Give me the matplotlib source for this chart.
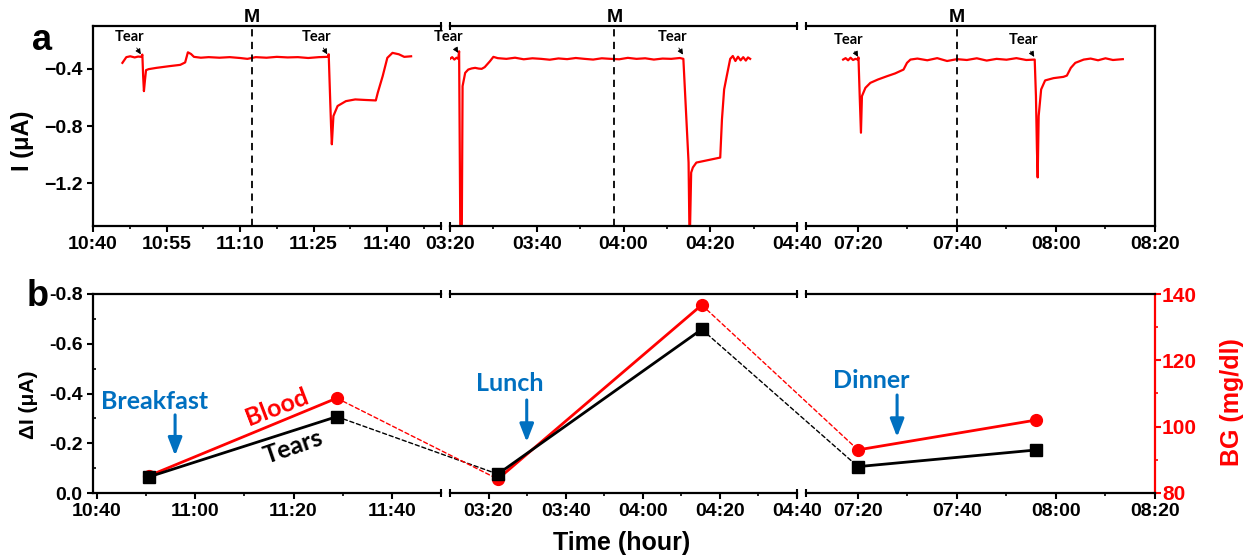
import matplotlib
matplotlib.use('Agg')
import matplotlib.pyplot as plt
from matplotlib.ticker import FuncFormatter
from matplotlib.patches import ConnectionPatch
import matplotlib.transforms as mtransforms
import numpy as np

plt.rcParams['font.family'] = ['Liberation Sans', 'DejaVu Sans']
plt.rcParams['font.weight'] = 'bold'

RED = '#ff0000'
BLUE = '#0070c0'

# ---- panel a: current traces (minutes after panel start, current in uA) ----
panel_start = ['10:40', '03:20', '07:20']
mark_time = ['11:12.4', '03:57.9', '07:40']

trace1_t = [6.0, 6.8, 7.6, 8.5, 9.2, 9.86, 10.07, 10.23, 10.39, 10.6, 10.82, 11.35, 12.95,
            15.6, 17.8, 18.8, 19.36, 20.0, 20.6, 22.0, 23.6, 25.8, 27.9, 30.0, 31.5, 33.2,
            35.4, 37.5, 39.7, 41.8, 43.9, 46.1, 47.88, 48.09, 48.41, 48.57, 48.73, 49.05,
            49.9, 51.6, 53.5, 55.7, 57.7, 58.1, 59.1, 60.05, 61.1, 62.4, 63.5, 64.9]
trace1_i = [-0.358, -0.318, -0.312, -0.320, -0.314, -0.316, -0.300, -0.45, -0.556, -0.48,
            -0.409, -0.402, -0.393, -0.381, -0.372, -0.355, -0.284, -0.296, -0.316, -0.322,
            -0.318, -0.322, -0.318, -0.324, -0.330, -0.318, -0.322, -0.316, -0.320, -0.318,
            -0.324, -0.318, -0.316, -0.298, -0.637, -0.80, -0.928, -0.73, -0.660, -0.626,
            -0.614, -0.618, -0.621, -0.567, -0.451, -0.323, -0.288, -0.298, -0.316, -0.312]

trace2_t = [0, 0.5, 1.0, 1.5, 1.9, 2.1, 2.4, 2.7, 2.9, 3.5, 4.2, 5.0, 5.8, 6.6, 7.3, 8.0,
            9.2, 10.0, 11, 13, 15, 17, 19, 21, 23, 25, 27, 29, 31, 33, 35, 37, 39, 41, 43,
            45, 47, 49, 51, 53, 53.8, 55.0, 55.25, 55.6, 56.0, 56.8, 62.3, 62.7, 63.2,
            63.8, 64.6, 65.2, 65.8, 66.4, 67.0, 67.6, 68.2, 68.7, 69.2]
trace2_i = [-0.330, -0.318, -0.335, -0.322, -0.330, -0.277, -1.65, -1.65, -0.521, -0.428,
            -0.405, -0.397, -0.393, -0.398, -0.400, -0.388, -0.347, -0.316, -0.325, -0.330,
            -0.322, -0.333, -0.326, -0.330, -0.336, -0.327, -0.332, -0.324, -0.330, -0.335,
            -0.326, -0.330, -0.333, -0.323, -0.330, -0.326, -0.335, -0.328, -0.330, -0.324,
            -0.330, -1.056, -1.65, -1.126, -1.09, -1.056, -1.021, -0.753, -0.544, -0.451,
            -0.330, -0.310, -0.345, -0.315, -0.340, -0.318, -0.342, -0.320, -0.330]

trace3_t = [-3.0, -2.5, -2.0, -1.5, -1.0, -0.5, 0.0, 0.1, 0.35, 0.6, 0.8, 1.5, 2.5, 4.0,
            5.9, 7.5, 9.2, 9.9, 10.6, 12, 14, 16, 18, 20, 22, 24, 26, 28, 30, 32, 34, 35.7,
            35.95, 36.15, 36.3, 36.5, 37.0, 37.8, 39.5, 41.5, 42.2, 43.0, 43.9, 45.6, 47,
            48.5, 50, 51.5, 53.5]
trace3_i = [-0.335, -0.325, -0.340, -0.322, -0.338, -0.330, -0.335, -0.320, -0.591, -0.847,
            -0.591, -0.533, -0.498, -0.475, -0.451, -0.432, -0.405, -0.358, -0.335, -0.328,
            -0.340, -0.325, -0.345, -0.332, -0.338, -0.326, -0.342, -0.330, -0.336, -0.325,
            -0.338, -0.335, -0.591, -0.963, -1.160, -0.730, -0.544, -0.481, -0.465, -0.456,
            -0.447, -0.393, -0.358, -0.335, -0.328, -0.340, -0.326, -0.338, -0.332]

# "Tear" labels: (text t, text I, tip t, tip I) per panel
tear_marks = [
    [(7.5, -0.177, 9.75, -0.298), (45.6, -0.177, 47.8, -0.298)],
    [(-0.4, -0.177, 1.9, -0.288), (51.2, -0.177, 53.7, -0.300)],
    [(-1.9, -0.200, 0.0, -0.316), (33.5, -0.200, 35.6, -0.316)],
]

# ---- panel b: tears current vs blood glucose ----
meal_times = ['10:50.6', '11:28.8', '03:22.4', '04:15.3', '07:20.0', '07:56.0']
tears_dI = [-0.065, -0.307, -0.076, -0.658, -0.106, -0.173]
blood_bg = [85.2, 108.6, 84.2, 136.7, 93.0, 102.0]
meal_names = ['Breakfast', 'Lunch', 'Dinner']
meal_text = [('10:51.8', -0.366), ('03:25.5', -0.442), ('07:22.6', -0.454)]
meal_arrow = [('10:55.9', -0.314, -0.150), ('03:29.9', -0.374, -0.205), ('07:27.9', -0.394, -0.225)]


def hm(s):
    h, m = s.split(':')
    return int(h) * 60 + float(m)


def hhmm(v, pos):
    v = int(round(v))
    return '%02d:%02d' % (v // 60, v % 60)


W, H = 1255, 560
fig = plt.figure(figsize=(W / 100, H / 100), dpi=100)


def px_axes(x0, x1, y0, y1):
    return fig.add_axes([x0 / W, 1 - y1 / H, (x1 - x0) / W, (y1 - y0) / H])


def break_marks(ax, left, right, color='k'):
    for xx, on in ((0, left), (1, right)):
        if on:
            for yy in (0, 1):
                ax.plot([xx, xx], [yy - 0.022, yy + 0.022], transform=ax.transAxes,
                        color=color, lw=1.5, clip_on=False, solid_capstyle='butt')


def style_x(ax, lo, hi, step, ticks_from):
    ax.set_xlim(hm(lo), hm(hi))
    t0 = hm(ticks_from)
    ax.set_xticks(np.arange(t0, hm(hi) + 0.01, step))
    ax.set_xticks(np.arange(t0 + step / 2, hm(hi), step), minor=True)
    ax.xaxis.set_major_formatter(FuncFormatter(hhmm))
    ax.tick_params(axis='x', which='major', direction='out', length=4, width=1.5,
                   labelsize=14, pad=3)
    ax.tick_params(axis='x', which='minor', direction='out', length=2.5, width=1.2)


cols_px = [(93, 441), (450, 797), (806, 1155)]
top_xlim = [('10:40', '11:51'), ('03:20', '04:40'), ('07:09.5', '08:20')]
top_step = [15, 20, 20]
top_tick0 = ['10:40', '03:20', '07:20']
bot_xlim = [('10:39.2', '11:50'), ('03:10', '04:40'), ('07:09.5', '08:20')]
bot_tick0 = ['10:40', '03:20', '07:20']

traces_t = [trace1_t, trace2_t, trace3_t]
traces_i = [trace1_i, trace2_i, trace3_i]

# ---- top row ----
for k in range(3):
    ax = px_axes(cols_px[k][0], cols_px[k][1], 26, 226)
    t0 = hm(panel_start[k])
    ax.plot([t0 + t for t in traces_t[k]], traces_i[k], color=RED, lw=1.6)
    ax.axvline(hm(mark_time[k]), color='k', ls='--', lw=1.3, dashes=(4, 3))
    ax.text(hm(mark_time[k]), 1.0, 'M', transform=mtransforms.blended_transform_factory(
        ax.transData, ax.transAxes), ha='center', va='bottom', fontsize=14)
    for tx, ty, px_, py in tear_marks[k]:
        ax.annotate('Tear', xy=(t0 + px_, py), xytext=(t0 + tx, ty), ha='center', va='center',
                    fontsize=10.5, family=['Lato', 'DejaVu Sans'], annotation_clip=False,
                    arrowprops=dict(arrowstyle='-|>', color='k', lw=0.6, shrinkA=1, shrinkB=0,
                                    mutation_scale=8))
    ax.set_ylim(-1.5, -0.1)
    style_x(ax, top_xlim[k][0], top_xlim[k][1], top_step[k], top_tick0[k])
    for sp in ax.spines.values():
        sp.set_linewidth(1.6)
    ax.spines['left'].set_visible(k == 0)
    ax.spines['right'].set_visible(k == 2)
    if k == 0:
        ax.set_yticks([-0.4, -0.8, -1.2])
        ax.tick_params(axis='y', which='major', direction='out', length=4, width=1.5,
                       labelsize=14)
    else:
        ax.set_yticks([])
    break_marks(ax, k > 0, k < 2)

# ---- bottom row ----
bot_axes = []
bot_twins = []
for k in range(3):
    ax = px_axes(cols_px[k][0], cols_px[k][1], 294, 493)
    tw = ax.twinx()
    ax.set_zorder(tw.get_zorder() + 1)
    ax.patch.set_visible(False)
    ax.set_ylim(0.0, -0.8)
    tw.set_ylim(80, 140)
    style_x(ax, bot_xlim[k][0], bot_xlim[k][1], 20, bot_tick0[k])
    pair = [2 * k, 2 * k + 1]
    tw.plot([hm(meal_times[j]) for j in pair], [blood_bg[j] for j in pair], '-o',
            color=RED, lw=2, ms=8.5)
    ax.plot([hm(meal_times[j]) for j in pair], [tears_dI[j] for j in pair], '-s',
            color='k', lw=2, ms=8.5)
    # meal annotation
    ax.text(hm(meal_text[k][0]), meal_text[k][1], meal_names[k], color=BLUE, fontsize=18,
            ha='center', va='center', family=['Lato', 'DejaVu Sans'])
    ax.annotate('', xy=(hm(meal_arrow[k][0]), meal_arrow[k][2]),
                xytext=(hm(meal_arrow[k][0]), meal_arrow[k][1]),
                arrowprops=dict(arrowstyle='-|>,head_length=0.9,head_width=0.35', color=BLUE,
                                lw=2.2, shrinkA=0, shrinkB=0, mutation_scale=12))
    for sp in ax.spines.values():
        sp.set_linewidth(1.6)
    ax.spines['left'].set_visible(k == 0)
    ax.spines['right'].set_visible(False)
    for name in ('top', 'bottom', 'left'):
        tw.spines[name].set_visible(False)
    tw.spines['right'].set_visible(k == 2)
    tw.spines['right'].set_color(RED)
    tw.spines['right'].set_linewidth(1.6)
    if k == 0:
        ax.set_yticks([0.0, -0.2, -0.4, -0.6, -0.8])
        ax.set_yticks([-0.1, -0.3, -0.5, -0.7], minor=True)
        ax.yaxis.set_major_formatter(FuncFormatter(lambda v, p: '%.1f' % v if v != 0 else '0.0'))
        ax.tick_params(axis='y', which='major', direction='out', length=4, width=1.5,
                       labelsize=14)
        ax.tick_params(axis='y', which='minor', direction='in', length=2.5, width=1.2)
    else:
        ax.set_yticks([])
    if k == 2:
        tw.set_yticks([80, 100, 120, 140])
        tw.set_yticks([90, 110, 130], minor=True)
        tw.tick_params(axis='y', which='major', direction='out', length=4, width=1.5,
                       labelsize=15, colors=RED, pad=1)
        tw.tick_params(axis='y', which='minor', direction='out', length=2.5, width=1.2,
                       colors=RED)
    else:
        tw.set_yticks([])
    break_marks(ax, k > 0, k < 2)
    bot_axes.append(ax)
    bot_twins.append(tw)

# dashed links between panels
for k in range(2):
    a, b = 2 * k + 1, 2 * k + 2
    fig.add_artist(ConnectionPatch(xyA=(hm(meal_times[a]), tears_dI[a]), coordsA=bot_axes[k].transData,
                                   xyB=(hm(meal_times[b]), tears_dI[b]), coordsB=bot_axes[k + 1].transData,
                                   color='k', lw=1.0, linestyle=(0, (3, 2))))
    fig.add_artist(ConnectionPatch(xyA=(hm(meal_times[a]), blood_bg[a]), coordsA=bot_twins[k].transData,
                                   xyB=(hm(meal_times[b]), blood_bg[b]), coordsB=bot_twins[k + 1].transData,
                                   color=RED, lw=1.0, linestyle=(0, (3, 2))))

# curve labels in panel b
bot_axes[0].text(hm('11:16.6'), -0.346, 'Blood', color=RED, fontsize=18, rotation=21,
                 ha='center', va='center', family=['Lato', 'DejaVu Sans'])
bot_axes[0].text(hm('11:19.9'), -0.185, 'Tears', color='k', fontsize=18, rotation=19,
                 ha='center', va='center', family=['Lato', 'DejaVu Sans'])

# figure labels
fig.text(22 / W, 1 - 141 / H, 'I (μA)', rotation=90, ha='center', va='center', fontsize=17)
fig.text(29 / W, 1 - 405 / H, 'ΔI (μA)', rotation=90, ha='center', va='center', fontsize=15)
fig.text(1232 / W, 1 - 402 / H, 'BG (mg/dl)', rotation=90, ha='center', va='center',
         fontsize=18, color=RED)
fig.text(622 / W, 1 - 543 / H, 'Time (hour)', ha='center', va='center', fontsize=18)
fig.text(42 / W, 1 - 41 / H, 'a', ha='center', va='center', fontsize=26)
fig.text(38 / W, 1 - 297 / H, 'b', ha='center', va='center', fontsize=26)

fig.savefig('out.png', dpi=100)
